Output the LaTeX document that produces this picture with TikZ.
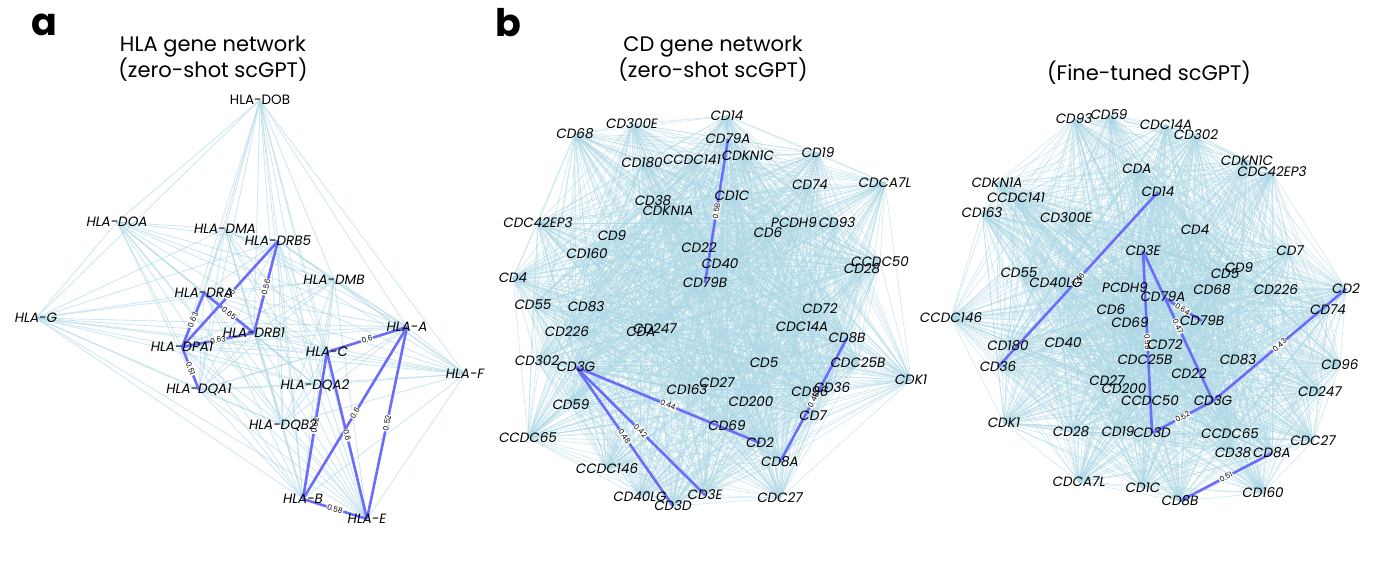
\documentclass[tikz,border=0pt]{standalone}
\usepackage{fontspec}
\setmainfont{Poppins}
\usetikzlibrary{calc}
\pgfdeclarelayer{back}
\pgfdeclarelayer{bg}
\pgfdeclarelayer{mid}
\pgfsetlayers{back,bg,mid,main}
\definecolor{lightedgecol}{RGB}{173,216,230}
\definecolor{hicol}{RGB}{108,108,250}
\tikzset{
  gene/.style={font=\fontsize{13.5}{15}\selectfont\itshape, inner sep=0pt},
  geneup/.style={font=\fontsize{13.5}{15}\selectfont, inner sep=0pt},
  ttl/.style={font=\fontsize{21}{24}\selectfont, align=center, inner sep=0pt},
  panel/.style={font=\fontsize{38}{38}\selectfont\bfseries, inner sep=0pt},
  lightedge/.style={draw=lightedgecol, line width=0.6pt, opacity=0.6},
  hiedge/.style={draw=hicol, line width=2.6pt},
  wlab/.style={midway, sloped, fill=white, inner sep=0.7pt, font=\fontsize{7.5}{8}\selectfont}
}
\newcommand{\fullgraph}[2][]{%
  \foreach \a [count=\i] in #2 {%
    \foreach \b [count=\j] in #2 {%
      \ifnum\j>\i \draw[lightedge,#1] (\a.center) -- (\b.center);\fi
    }%
  }%
}
\begin{document}
\begin{tikzpicture}[x=1pt,y=-1pt]
\useasboundingbox (0,0) rectangle (1378,566);
\begin{pgfonlayer}{back}
\fill[white] (0,0) rectangle (1378,566);
\end{pgfonlayer}

% panel letters and titles
\node[panel] (pa) at (44,25) {a};
\node[panel] (pb) at (508,23) {b};
\node[ttl] (ta) at (213,59) {HLA gene network\\(zero-shot scGPT)};
\node[ttl] (tb) at (713,59) {CD gene network\\(zero-shot scGPT)};
\node[ttl] (tc) at (1149,73) {(Fine-tuned scGPT)};

% ---------------- HLA network ----------------
\node[geneup] (hDOB) at (260,100) {HLA-DOB};
\node[gene] (hDOA) at (117,222) {HLA-DOA};
\node[gene] (hDMA) at (225,229) {HLA-DMA};
\node[gene] (hDRBv) at (278,241) {HLA-DRB5};
\node[gene] (hDMB) at (334,280) {HLA-DMB};
\node[gene] (hDRA) at (204,293) {HLA-DRA};
\node[gene] (hG) at (36,318) {HLA-G};
\node[gene] (hDRBi) at (254,333) {HLA-DRB1};
\node[gene] (hDPAi) at (182,347) {HLA-DPA1};
\node[gene] (hA) at (407,327) {HLA-A};
\node[gene] (hC) at (327,352) {HLA-C};
\node[gene] (hF) at (465,374) {HLA-F};
\node[gene] (hDQAii) at (315,385) {HLA-DQA2};
\node[gene] (hDQAi) at (199,390) {HLA-DQA1};
\node[gene] (hDQBii) at (283,425) {HLA-DQB2};
\node[gene] (hB) at (303,499) {HLA-B};
\node[gene] (hE) at (367,519) {HLA-E};

% ---------------- CD zero-shot ----------------
\node[gene] (zCDxiv) at (727,116) {CD14};
\node[gene] (zCDccce) at (632,124) {CD300E};
\node[gene] (zCDlxviii) at (575,134) {CD68};
\node[gene] (zCDlxxixA) at (728,139) {CD79A};
\node[gene] (zCDclxxx) at (642,163) {CD180};
\node[gene] (zCCDCcxli) at (692,160) {CCDC141};
\node[gene] (zCDKNiC) at (748,156) {CDKN1C};
\node[gene] (zCDxix) at (818,153) {CD19};
\node[gene] (zCDlxxiv) at (810,185) {CD74};
\node[gene] (zCDCAviiL) at (885,183) {CDCA7L};
\node[gene] (zCDxxxviii) at (653,201) {CD38};
\node[gene] (zCDiC) at (732,196) {CD1C};
\node[gene] (zCDKNiA) at (668,211) {CDKN1A};
\node[gene] (zCDCxlii) at (538,223) {CDC42EP3};
\node[gene] (zPCDHix) at (794,223) {PCDH9};
\node[gene] (zCDxciii) at (837,223) {CD93};
\node[gene] (zCDvi) at (768,233) {CD6};
\node[gene] (zCDix) at (612,236) {CD9};
\node[gene] (zCDxxii) at (699,248) {CD22};
\node[gene] (zCDclx) at (587,254) {CD160};
\node[gene] (zCDxl) at (720,264) {CD40};
\node[gene] (zCCDCl) at (880,262) {CCDC50};
\node[gene] (zCDxxviii) at (862,269) {CD28};
\node[gene] (zCDiv) at (513,278) {CD4};
\node[gene] (zCDlxxixB) at (705,283) {CD79B};
\node[gene] (zCDlv) at (533,305) {CD55};
\node[gene] (zCDlxxxiii) at (586,307) {CD83};
\node[gene] (zCDlxxii) at (820,309) {CD72};
\node[gene] (zCDccxxvi) at (567,332) {CD226};
\node[gene] (zCDA) at (641,332) {CDA};
\node[gene] (zCDccxlvii) at (655,329) {CD247};
\node[gene] (zCDCxivA) at (802,327) {CDC14A};
\node[gene] (zCDviiiB) at (847,338) {CD8B};
\node[gene] (zCDcccii) at (537,361) {CD302};
\node[gene] (zCDiiiG) at (576,367) {CD3G};
\node[gene] (zCDCxxvB) at (858,363) {CDC25B};
\node[gene] (zCDv) at (764,363) {CD5};
\node[gene] (zCDKi) at (911,380) {CDK1};
\node[gene] (zCDxxvii) at (717,383) {CD27};
\node[gene] (zCDclxiii) at (687,390) {CD163};
\node[gene] (zCDxcvi) at (810,392) {CD96};
\node[gene] (zCDxxxvi) at (832,388) {CD36};
\node[gene] (zCDcc) at (751,402) {CD200};
\node[gene] (zCDlix) at (571,405) {CD59};
\node[gene] (zCDvii) at (813,416) {CD7};
\node[gene] (zCDlxix) at (727,426) {CD69};
\node[gene] (zCCDClxv) at (528,438) {CCDC65};
\node[gene] (zCDii) at (760,443) {CD2};
\node[gene] (zCDviiiA) at (780,462) {CD8A};
\node[gene] (zCCDCcxlvi) at (607,469) {CCDC146};
\node[gene] (zCDxlLG) at (640,497) {CD40LG};
\node[gene] (zCDiiiE) at (705,495) {CD3E};
\node[gene] (zCDCxxvii) at (780,498) {CDC27};
\node[gene] (zCDiiiD) at (673,506) {CD3D};

% ---------------- CD fine-tuned ----------------
\node[gene] (fCDxciii) at (1074,119) {CD93};
\node[gene] (fCDlix) at (1109,115) {CD59};
\node[gene] (fCDCxivA) at (1166,125) {CDC14A};
\node[gene] (fCDcccii) at (1196,135) {CD302};
\node[gene] (fCDKNiC) at (1247,161) {CDKN1C};
\node[gene] (fCDCxlii) at (1272,172) {CDC42EP3};
\node[gene] (fCDA) at (1137,169) {CDA};
\node[gene] (fCDKNiA) at (997,183) {CDKN1A};
\node[gene] (fCCDCcxli) at (1016,198) {CCDC141};
\node[gene] (fCDclxiii) at (982,213) {CD163};
\node[gene] (fCDccce) at (1066,218) {CD300E};
\node[gene] (fCDxiv) at (1158,192) {CD14};
\node[gene] (fCDiv) at (1195,230) {CD4};
\node[gene] (fCDiiiE) at (1143,251) {CD3E};
\node[gene] (fCDvii) at (1290,251) {CD7};
\node[gene] (fCDix) at (1239,268) {CD9};
\node[gene] (fCDv) at (1225,274) {CD5};
\node[gene] (fCDlv) at (1019,273) {CD55};
\node[gene] (fCDxlLG) at (1056,283) {CD40LG};
\node[gene] (fPCDHix) at (1125,288) {PCDH9};
\node[gene] (fCDlxxixA) at (1163,297) {CD79A};
\node[gene] (fCDlxviii) at (1212,290) {CD68};
\node[gene] (fCDccxxvi) at (1276,290) {CD226};
\node[gene] (fCDii) at (1346,289) {CD2};
\node[gene] (fCCDCcxlvi) at (951,318) {CCDC146};
\node[gene] (fCDvi) at (1111,310) {CD6};
\node[gene] (fCDlxix) at (1130,323) {CD69};
\node[gene] (fCDlxxixB) at (1202,321) {CD79B};
\node[gene] (fCDlxxiv) at (1328,310) {CD74};
\node[gene] (fCDclxxx) at (1008,346) {CD180};
\node[gene] (fCDxl) at (1063,343) {CD40};
\node[gene] (fCDlxxii) at (1165,345) {CD72};
\node[gene] (fCDCxxvB) at (1145,360) {CDC25B};
\node[gene] (fCDlxxxiii) at (1238,360) {CD83};
\node[gene] (fCDxxxvi) at (998,367) {CD36};
\node[gene] (fCDxxii) at (1189,374) {CD22};
\node[gene] (fCDxcvi) at (1340,365) {CD96};
\node[gene] (fCDxxvii) at (1107,381) {CD27};
\node[gene] (fCDcc) at (1124,389) {CD200};
\node[gene] (fCDccxlvii) at (1320,392) {CD247};
\node[gene] (fCCDCl) at (1150,401) {CCDC50};
\node[gene] (fCDiiiG) at (1213,401) {CD3G};
\node[gene] (fCDKi) at (1004,423) {CDK1};
\node[gene] (fCDxxviii) at (1071,432) {CD28};
\node[gene] (fCDxix) at (1118,432) {CD19};
\node[gene] (fCDiiiD) at (1152,433) {CD3D};
\node[gene] (fCCDClxv) at (1230,434) {CCDC65};
\node[gene] (fCDCxxvii) at (1313,441) {CDC27};
\node[gene] (fCDxxxviii) at (1233,453) {CD38};
\node[gene] (fCDviiiA) at (1272,453) {CD8A};
\node[gene] (fCDCAviiL) at (1079,482) {CDCA7L};
\node[gene] (fCDiC) at (1143,488) {CD1C};
\node[gene] (fCDclx) at (1263,493) {CD160};
\node[gene] (fCDviiiB) at (1180,501) {CD8B};

% ---------------- light edges ----------------
\begin{pgfonlayer}{bg}
\fullgraph[line width=0.85pt]{{hDOB,hDOA,hDMA,hDRBv,hDMB,hDRA,hG,hDRBi,hDPAi,hA,hC,hF,hDQAii,hDQAi,hDQBii,hB,hE}}
\fullgraph{{zCDxiv,zCDccce,zCDlxviii,zCDlxxixA,zCDclxxx,zCCDCcxli,zCDKNiC,zCDxix,zCDlxxiv,zCDCAviiL,zCDxxxviii,zCDiC,zCDKNiA,zCDCxlii,zPCDHix,zCDxciii,zCDvi,zCDix,zCDxxii,zCDclx,zCDxl,zCCDCl,zCDxxviii,zCDiv,zCDlxxixB,zCDlv,zCDlxxxiii,zCDlxxii,zCDccxxvi,zCDA,zCDccxlvii,zCDCxivA,zCDviiiB,zCDcccii,zCDiiiG,zCDCxxvB,zCDv,zCDKi,zCDxxvii,zCDclxiii,zCDxcvi,zCDxxxvi,zCDcc,zCDlix,zCDvii,zCDlxix,zCCDClxv,zCDii,zCDviiiA,zCCDCcxlvi,zCDxlLG,zCDiiiE,zCDCxxvii,zCDiiiD}}
\fullgraph{{fCDxciii,fCDlix,fCDCxivA,fCDcccii,fCDKNiC,fCDCxlii,fCDA,fCDKNiA,fCCDCcxli,fCDclxiii,fCDccce,fCDxiv,fCDiv,fCDiiiE,fCDvii,fCDix,fCDv,fCDlv,fCDxlLG,fPCDHix,fCDlxxixA,fCDlxviii,fCDccxxvi,fCDii,fCCDCcxlvi,fCDvi,fCDlxix,fCDlxxixB,fCDlxxiv,fCDclxxx,fCDxl,fCDlxxii,fCDCxxvB,fCDlxxxiii,fCDxxxvi,fCDxxii,fCDxcvi,fCDxxvii,fCDcc,fCDccxlvii,fCCDCl,fCDiiiG,fCDKi,fCDxxviii,fCDxix,fCDiiiD,fCCDClxv,fCDCxxvii,fCDxxxviii,fCDviiiA,fCDCAviiL,fCDiC,fCDclx,fCDviiiB}}
\end{pgfonlayer}

% ---------------- highlighted edges ----------------
\begin{pgfonlayer}{mid}
\draw[hiedge] (hDRBv.center) -- (hDPAi.center) node[wlab] {0.6};
\draw[hiedge] (hDRBv.center) -- (hDRBi.center) node[wlab] {0.56};
\draw[hiedge] (hDRA.center) -- (hDRBi.center) node[wlab] {0.65};
\draw[hiedge] (hDRA.center) -- (hDPAi.center) node[wlab] {0.63};
\draw[hiedge] (hDPAi.center) -- (hDRBi.center) node[wlab] {0.63};
\draw[hiedge] (hDPAi.center) -- (hDQAi.center) node[wlab] {0.51};
\draw[hiedge] (hC.center) -- (hA.center) node[wlab] {0.6};
\draw[hiedge] (hA.center) -- (hB.center) node[wlab] {0.6};
\draw[hiedge] (hC.center) -- (hB.center) node[wlab] {0.62};
\draw[hiedge] (hC.center) -- (hE.center) node[wlab] {0.6};
\draw[hiedge] (hA.center) -- (hE.center) node[wlab] {0.52};
\draw[hiedge] (hB.center) -- (hE.center) node[wlab] {0.58};

\draw[hiedge] (zCDlxxixA.center) -- (zCDlxxixB.center) node[wlab] {0.58};
\draw[hiedge] (zCDiiiG.center) -- (zCDii.center) node[wlab] {0.44};
\draw[hiedge] (zCDiiiG.center) -- (zCDiiiE.center) node[wlab] {0.42};
\draw[hiedge] (zCDiiiG.center) -- (zCDiiiD.center) node[wlab] {0.48};
\draw[hiedge] (zCDviiiB.center) -- (zCDviiiA.center) node[wlab] {0.46};

\draw[hiedge] (fCDxiv.center) -- (fCDxxxvi.center) node[wlab] {0.46};
\draw[hiedge] (fCDiiiE.center) -- (fCDiiiD.center) node[wlab] {0.59};
\draw[hiedge] (fCDiiiE.center) -- (fCDiiiG.center) node[wlab] {0.47};
\draw[hiedge] (fCDlxxixA.center) -- (fCDlxxixB.center) node[wlab] {0.64};
\draw[hiedge] (fCDiiiG.center) -- (fCDii.center) node[wlab] {0.43};
\draw[hiedge] (fCDiiiG.center) -- (fCDiiiD.center) node[wlab] {0.52};
\draw[hiedge] (fCDviiiB.center) -- (fCDviiiA.center) node[wlab] {0.51};
\end{pgfonlayer}
\end{tikzpicture}
\end{document}
